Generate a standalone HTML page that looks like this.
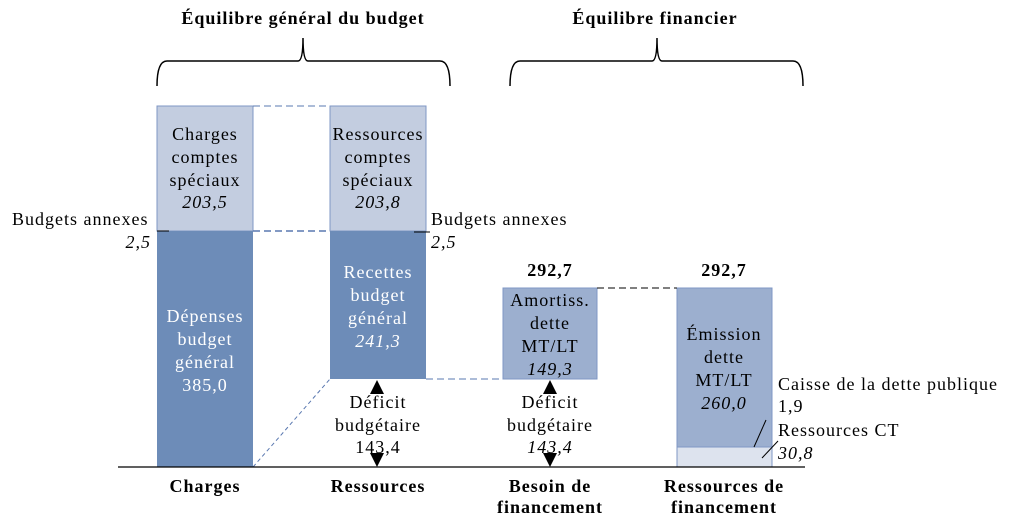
<!DOCTYPE html>
<html><head><meta charset="utf-8"><style>
body{margin:0;background:#fff;}
svg{display:block;font-family:"Liberation Serif",serif;}
svg text{letter-spacing:1px;}
</style></head><body>
<svg width="1014" height="530" viewBox="0 0 1014 530">
<text x="303" y="24" font-size="18" font-weight="bold" text-anchor="middle">Équilibre général du budget</text>
<text x="655" y="24" font-size="18" font-weight="bold" text-anchor="middle">Équilibre financier</text>
<path d="M157,86 Q157,61 167,61 L298,61 Q303,61 303,38 Q303,61 308,61 L440,61 Q450,61 450,86" fill="none" stroke="#000" stroke-width="1.5"/>
<path d="M510,86 Q510,61 520,61 L652,61 Q657,61 657,38 Q657,61 662,61 L793,61 Q803,61 803,86" fill="none" stroke="#000" stroke-width="1.5"/>

<rect x="157" y="106" width="96" height="125" fill="#c3cde0" stroke="#7f97c4"/>
<rect x="157" y="231" width="96" height="236" fill="#6d8cb8"/>
<rect x="330" y="106" width="96" height="125" fill="#c3cde0" stroke="#7f97c4"/>
<rect x="330" y="231" width="96" height="148" fill="#6d8cb8"/>
<rect x="503" y="288" width="94" height="91" fill="#9cafcf" stroke="#7f97c4"/>
<rect x="677" y="288" width="95" height="159" fill="#9cafcf" stroke="#7f97c4"/>
<rect x="677" y="447" width="95" height="20" fill="#dde3ee" stroke="#7f97c4"/>

<g stroke="#5a78b0" stroke-dasharray="7,4" fill="none">
<line x1="253" y1="106" x2="330" y2="106"/>
<line x1="253" y1="231" x2="330" y2="231" stroke-width="1.5"/>
<line x1="426" y1="379" x2="503" y2="379"/>
<line x1="253" y1="467" x2="330" y2="379" stroke-dasharray="4,3"/>
</g>
<line x1="597" y1="288" x2="677" y2="288" stroke="#000" stroke-dasharray="7,4"/>
<line x1="118" y1="467" x2="805" y2="467" stroke="#000" stroke-width="1.3"/>
<line x1="157" y1="231" x2="169" y2="231" stroke="#000"/>
<line x1="414" y1="232" x2="430" y2="232" stroke="#000"/>
<line x1="762" y1="458" x2="778" y2="441" stroke="#000"/>
<line x1="754" y1="447" x2="766" y2="420" stroke="#000"/>

<polygon points="377,380 370,394 384,394" fill="#000"/>
<polygon points="377,467 370,453 384,453" fill="#000"/>
<polygon points="550,380 543,394 557,394" fill="#000"/>
<polygon points="550,467 543,453 557,453" fill="#000"/>

<g font-size="18" text-anchor="middle">
<text x="205" y="140">Charges</text><text x="205" y="163">comptes</text><text x="205" y="186">spéciaux</text><text x="205" y="208" font-style="italic">203,5</text>
<text x="378" y="140">Ressources</text><text x="378" y="163">comptes</text><text x="378" y="186">spéciaux</text><text x="378" y="208" font-style="italic">203,8</text>
<g fill="#fff"><text x="205" y="322">Dépenses</text><text x="205" y="345">budget</text><text x="205" y="368">général</text><text x="205" y="391">385,0</text>
<text x="378" y="278">Recettes</text><text x="378" y="301">budget</text><text x="378" y="324">général</text><text x="378" y="347" font-style="italic">241,3</text></g>
<text x="378" y="408">Déficit</text><text x="378" y="431">budgétaire</text><text x="378" y="453">143,4</text>
<text x="550" y="306">Amortiss.</text><text x="550" y="329">dette</text><text x="550" y="352">MT/LT</text><text x="550" y="375" font-style="italic">149,3</text>
<text x="550" y="408">Déficit</text><text x="550" y="431">budgétaire</text><text x="550" y="453" font-style="italic">143,4</text>
<text x="724" y="340">Émission</text><text x="724" y="363">dette</text><text x="724" y="386">MT/LT</text><text x="724" y="409" font-style="italic">260,0</text>
<g font-weight="bold"><text x="550" y="276">292,7</text><text x="724" y="276">292,7</text>
<text x="205" y="492">Charges</text><text x="378" y="492">Ressources</text>
<text x="550" y="492">Besoin de</text><text x="550" y="513">financement</text>
<text x="724" y="492">Ressources de</text><text x="724" y="513">financement</text></g>
</g>
<g font-size="18">
<text x="12" y="225">Budgets annexes</text>
<text x="151" y="248" text-anchor="end" font-style="italic">2,5</text>
<text x="431" y="225">Budgets annexes</text>
<text x="431" y="248" font-style="italic">2,5</text>
<text x="778" y="390">Caisse de la dette publique</text>
<text x="778" y="412">1,9</text>
<text x="778" y="436">Ressources CT</text>
<text x="778" y="459" font-style="italic">30,8</text>
</g>
</svg>
</body></html>
